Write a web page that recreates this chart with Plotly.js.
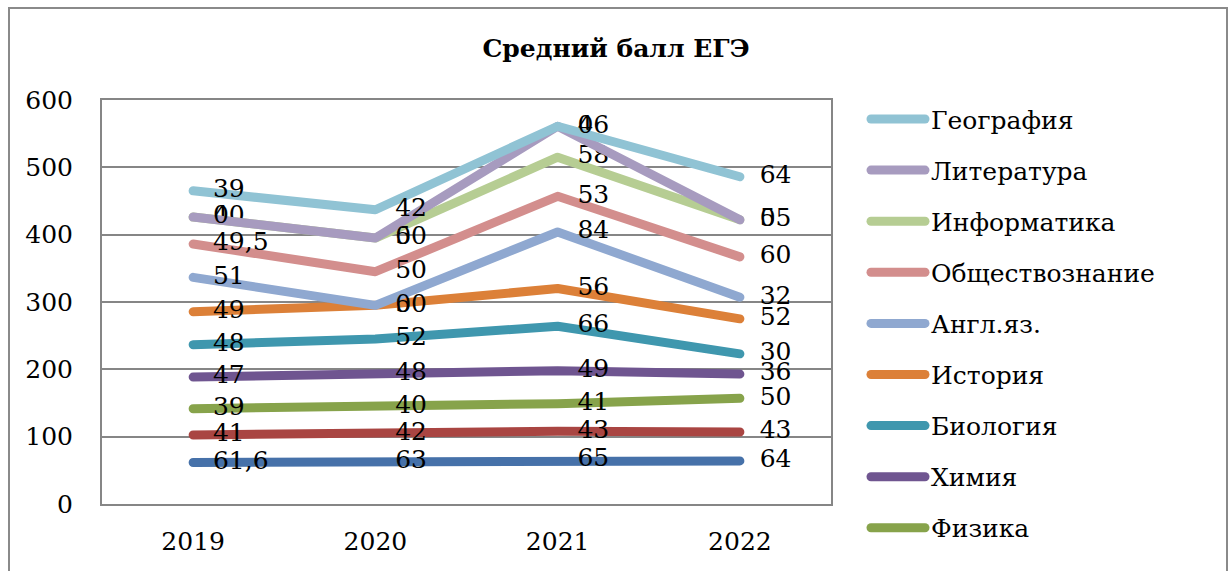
<!DOCTYPE html>
<html><head><meta charset="utf-8">
<script src="https://cdn.plot.ly/plotly-3.0.1.min.js"></script>
<style>
html,body{margin:0;padding:0;overflow:hidden;background:#fff}
#chart{width:1232px;height:571px}
.scatterlayer .js-line{stroke-linecap:round;stroke-linejoin:round}
.shapelayer path{stroke-linecap:round}
</style></head><body><div id="chart"></div><script>
// Categories
const years = ['2019', '2020', '2021', '2022'];
// Series values (stacked line chart, bottom to top)
const russian     = [61.6, 63, 65, 64];
const math        = [41, 42, 43, 43];
const physics     = [39, 40, 41, 50];
const chemistry   = [47, 48, 49, 36];
const biology     = [48, 52, 66, 30];
const history     = [49, 50, 56, 52];
const english     = [51, 0, 84, 32];
const social      = [49.5, 50, 53, 60];
const informatics = [40, 50, 58, 55];
const literature  = [0, 0, 46, 0];
const geography   = [39, 42, 0, 64];
const yTicks = [0, 100, 200, 300, 400, 500, 600];

const series = [
  {name: 'Русский язык',   values: russian,     color: '#4671A9'},
  {name: 'Математика',     values: math,        color: '#A94542'},
  {name: 'Физика',         values: physics,     color: '#87A34B'},
  {name: 'Химия',          values: chemistry,   color: '#6F5590'},
  {name: 'Биология',       values: biology,     color: '#3F97AE'},
  {name: 'История',        values: history,     color: '#DC8038'},
  {name: 'Англ.яз.',       values: english,     color: '#8FA8D0'},
  {name: 'Обществознание', values: social,      color: '#D38E8D'},
  {name: 'Информатика',    values: informatics, color: '#B6CD93'},
  {name: 'Литература',     values: literature,  color: '#A79BBF'},
  {name: 'География',      values: geography,   color: '#90C3D4'}
];

const FONT = '"DejaVu Serif", serif';
const W = 1232, H = 571;
const L = 102, R = 831, T = 100, B = 504;
const fx = X => (X - L) / (R - L);
const fy = Y => (B - Y) / (B - T);

const cum = [0, 0, 0, 0];
const traces = series.map(s => {
  const y = s.values.map((v, i) => (cum[i] += v));
  return {
    type: 'scatter', mode: 'lines+markers+text', name: s.name,
    x: years, y: y,
    text: s.values.map(v => String(v).replace('.', ',')),
    textposition: 'middle right',
    textfont: {family: FONT, size: 25, color: '#000'},
    line: {color: s.color, width: 9},
    marker: {size: 30, opacity: 0, color: s.color},
    cliponaxis: false, hoverinfo: 'name+y', showlegend: false
  };
});

const shapes = [
  {type: 'rect', xref: 'paper', yref: 'paper', x0: fx(9), x1: fx(1227), y0: fy(8), y1: fy(650),
   line: {color: '#8a8a8a', width: 2}, fillcolor: 'rgba(0,0,0,0)', layer: 'below'}
];
const annotations = [];
const legendOrder = series.slice().reverse();
legendOrder.forEach((s, i) => {
  const Y = 119 + i * 51.1;
  if (Y > 555) return; // rows below the visible chart area are cut off in the original
  shapes.push({type: 'line', xref: 'paper', yref: 'paper', x0: fx(871), x1: fx(925), y0: fy(Y), y1: fy(Y),
    line: {color: s.color, width: 9}});
  annotations.push({xref: 'paper', yref: 'paper', x: fx(929), y: fy(Y + 1), xanchor: 'left', yanchor: 'middle',
    text: s.name, showarrow: false, font: {family: FONT, size: 25, color: '#000'}});
});

const layout = {
  width: W, height: H,
  margin: {l: L, r: W - R, t: T, b: H - B, pad: 0},
  paper_bgcolor: '#fff', plot_bgcolor: '#fff',
  font: {family: FONT, color: '#000'},
  title: {text: '<b>Средний балл ЕГЭ</b>', x: 0.5, xanchor: 'center', xref: 'container',
          y: 1 - 48 / H, yanchor: 'middle', yref: 'container',
          font: {family: FONT, size: 25, color: '#000'}},
  xaxis: {type: 'category', range: [-0.5, 3.5], showgrid: false, zeroline: false,
          showline: true, linecolor: '#868686', linewidth: 2, mirror: true,
          ticks: '', ticklabelstandoff: 14,
          tickfont: {family: FONT, size: 25, color: '#000'}},
  yaxis: {range: [0, 600], tickvals: yTicks, showgrid: true, gridcolor: '#868686', gridwidth: 2,
          zeroline: false, showline: true, linecolor: '#868686', linewidth: 2, mirror: true,
          ticks: '', ticklabelstandoff: 22,
          tickfont: {family: FONT, size: 25, color: '#000'}},
  shapes: shapes, annotations: annotations, showlegend: false
};

Plotly.newPlot('chart', traces, layout, {staticPlot: true, displayModeBar: false});
</script></body></html>
